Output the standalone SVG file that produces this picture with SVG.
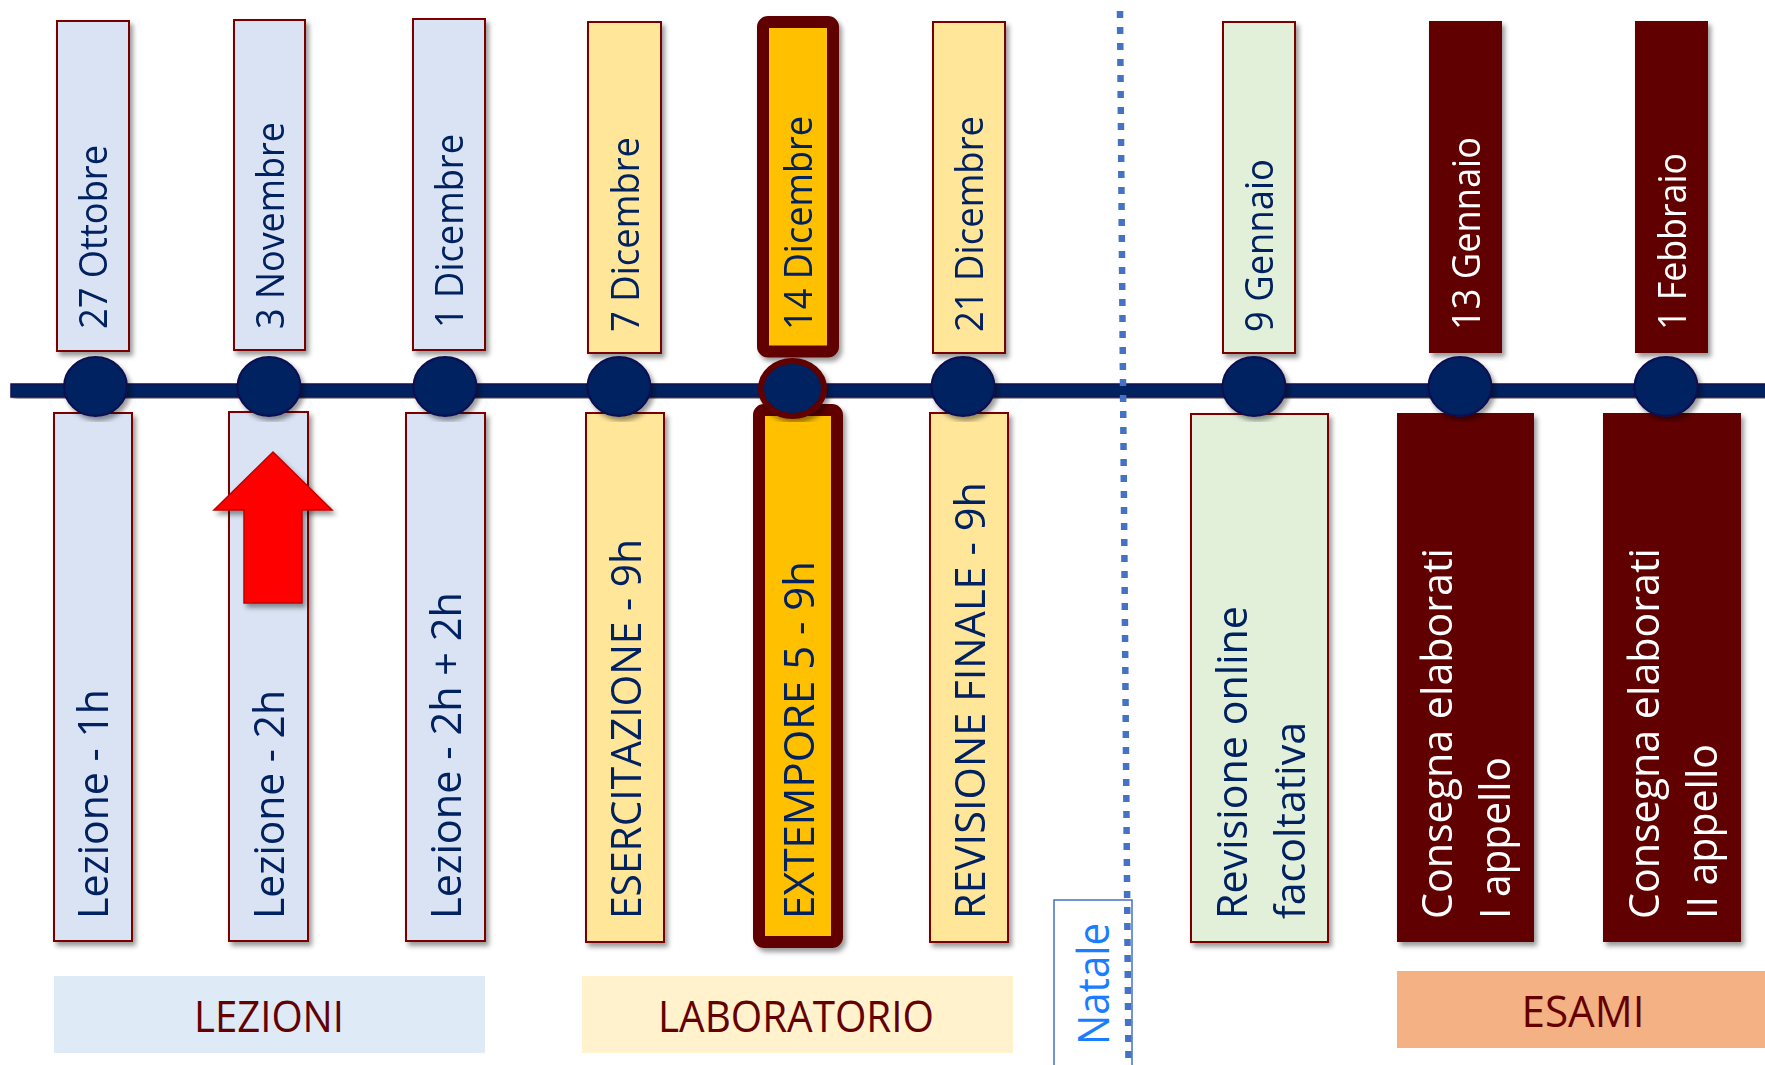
<svg xmlns="http://www.w3.org/2000/svg" width="1765" height="1065" viewBox="0 0 1765 1065">
<defs>
<filter id="sh" x="-30%" y="-10%" width="160%" height="120%">
<feDropShadow dx="3" dy="4" stdDeviation="2.5" flood-color="#000" flood-opacity="0.4"/>
</filter>
<style>
.t{font-family:"Open Sans","Liberation Sans",sans-serif}
.date{font-size:38px;font-weight:400;fill:#002060}
.lbl{font-size:42px;fill:#002060}
.wt{fill:#ffffff}
.band{font-size:44px;fill:#640000}
.bb{fill:#dae3f3;stroke:#7a0000;stroke-width:2}
.by{fill:#ffe699;stroke:#7a0000;stroke-width:2}
.bg{fill:#e2efd9;stroke:#7a0000;stroke-width:2}
.br{fill:#600000}
.hl{fill:#ffc000;stroke:#600000;stroke-width:12}
.dot{fill:#002060;stroke:#0f0f4f;stroke-width:2}
</style>
</defs>
<rect width="1765" height="1065" fill="#ffffff"/>

<g id="band-lezioni">
<rect x="54" y="976" width="431" height="77" fill="#deebf7"/>
<text class="t band" x="269" y="1032" text-anchor="middle" textLength="150" lengthAdjust="spacingAndGlyphs">LEZIONI</text>
</g>
<g id="band-laboratorio">
<rect x="582" y="976" width="431" height="77" fill="#fff2cc"/>
<text class="t band" x="796" y="1032" text-anchor="middle" textLength="276" lengthAdjust="spacingAndGlyphs">LABORATORIO</text>
</g>
<g id="band-esami">
<rect x="1397" y="971" width="368" height="77" fill="#f4b183"/>
<text class="t band" x="1583" y="1027" text-anchor="middle" textLength="123" lengthAdjust="spacingAndGlyphs">ESAMI</text>
</g>

<g id="natale">
<rect x="1054" y="900" width="78" height="175" fill="#ffffff" stroke="#4472c4" stroke-width="1.5"/>
<text class="t" font-size="43" fill="#1a7dff" transform="translate(1109,1045) rotate(-90)" textLength="122" lengthAdjust="spacingAndGlyphs">Natale</text>
</g>

<g id="top-27ott" filter="url(#sh)">
<rect class="bb" x="57" y="21" width="72" height="330"/>
<text class="t date" transform="translate(107,329) rotate(-90)" textLength="184" lengthAdjust="spacingAndGlyphs">27 Ottobre</text>
</g>
<g id="top-3nov" filter="url(#sh)">
<rect class="bb" x="234" y="20" width="71" height="330"/>
<text class="t date" transform="translate(283.5,329) rotate(-90)" textLength="207" lengthAdjust="spacingAndGlyphs">3 Novembre</text>
</g>
<g id="top-1dic" filter="url(#sh)">
<rect class="bb" x="413" y="19" width="72" height="331"/>
<text class="t date" transform="translate(463,328) rotate(-90)" textLength="194" lengthAdjust="spacingAndGlyphs">1 Dicembre</text>
</g>
<g id="top-7dic" filter="url(#sh)">
<rect class="by" x="588" y="22" width="73" height="331"/>
<text class="t date" transform="translate(638.5,332) rotate(-90)" textLength="195" lengthAdjust="spacingAndGlyphs">7 Dicembre</text>
</g>
<g id="top-14dic" filter="url(#sh)">
<rect class="hl" x="763" y="22" width="70" height="329.5" rx="5"/>
<text class="t date" transform="translate(812,330) rotate(-90)" textLength="214" lengthAdjust="spacingAndGlyphs">14 Dicembre</text>
</g>
<g id="top-21dic" filter="url(#sh)">
<rect class="by" x="933" y="22" width="72" height="331"/>
<text class="t date" transform="translate(983,332) rotate(-90)" textLength="216" lengthAdjust="spacingAndGlyphs">21 Dicembre</text>
</g>
<g id="top-9gen" filter="url(#sh)">
<rect class="bg" x="1223" y="22" width="72" height="331"/>
<text class="t date" transform="translate(1273,332) rotate(-90)" textLength="173" lengthAdjust="spacingAndGlyphs">9 Gennaio</text>
</g>
<g id="top-13gen" filter="url(#sh)">
<rect class="br" x="1429" y="21" width="73" height="332"/>
<text class="t date wt" transform="translate(1479.5,330) rotate(-90)" textLength="193" lengthAdjust="spacingAndGlyphs">13 Gennaio</text>
</g>
<g id="top-1feb" filter="url(#sh)">
<rect class="br" x="1635" y="21" width="73" height="332"/>
<text class="t date wt" transform="translate(1686,330) rotate(-90)" textLength="177" lengthAdjust="spacingAndGlyphs">1 Febbraio</text>
</g>

<g id="bot-lezione1" filter="url(#sh)">
<rect class="bb" x="54" y="413" width="78" height="528"/>
<text class="t lbl" transform="translate(108,919) rotate(-90)" textLength="230" lengthAdjust="spacingAndGlyphs">Lezione - 1h</text>
</g>
<g id="bot-lezione2" filter="url(#sh)">
<rect class="bb" x="229" y="412" width="79" height="529"/>
<text class="t lbl" transform="translate(283.5,919) rotate(-90)" textLength="229" lengthAdjust="spacingAndGlyphs">Lezione - 2h</text>
</g>
<g id="bot-lezione3" filter="url(#sh)">
<rect class="bb" x="406" y="413" width="79" height="528"/>
<text class="t lbl" transform="translate(460.5,919) rotate(-90)" textLength="327" lengthAdjust="spacingAndGlyphs">Lezione - 2h + 2h</text>
</g>
<g id="bot-esercitazione" filter="url(#sh)">
<rect class="by" x="586" y="413" width="78" height="529"/>
<text class="t lbl" transform="translate(640.5,919) rotate(-90)" textLength="380" lengthAdjust="spacingAndGlyphs">ESERCITAZIONE - 9h</text>
</g>
<g id="bot-extempore" filter="url(#sh)">
<rect class="hl" x="759" y="410" width="78" height="532" rx="5"/>
<text class="t lbl" transform="translate(814,919) rotate(-90)" textLength="358" lengthAdjust="spacingAndGlyphs">EXTEMPORE 5 - 9h</text>
</g>
<g id="bot-revfinale" filter="url(#sh)">
<rect class="by" x="930" y="413" width="78" height="529"/>
<text class="t lbl" transform="translate(985,919) rotate(-90)" textLength="437" lengthAdjust="spacingAndGlyphs">REVISIONE FINALE - 9h</text>
</g>
<g id="bot-revonline" filter="url(#sh)">
<rect class="bg" x="1191" y="414" width="137" height="528"/>
<text class="t lbl" transform="translate(1247,919) rotate(-90)" textLength="313" lengthAdjust="spacingAndGlyphs">Revisione online</text>
<text class="t lbl" transform="translate(1305,919) rotate(-90)" textLength="197" lengthAdjust="spacingAndGlyphs">facoltativa</text>
</g>
<g id="bot-consegna1" filter="url(#sh)">
<rect class="br" x="1397" y="413" width="137" height="529"/>
<text class="t lbl wt" transform="translate(1452,919) rotate(-90)" textLength="371" lengthAdjust="spacingAndGlyphs">Consegna elaborati</text>
<text class="t lbl wt" transform="translate(1510,919) rotate(-90)" textLength="162" lengthAdjust="spacingAndGlyphs">I appello</text>
</g>
<g id="bot-consegna2" filter="url(#sh)">
<rect class="br" x="1603" y="413" width="138" height="529"/>
<text class="t lbl wt" transform="translate(1659,919) rotate(-90)" textLength="371" lengthAdjust="spacingAndGlyphs">Consegna elaborati</text>
<text class="t lbl wt" transform="translate(1717,919) rotate(-90)" textLength="175" lengthAdjust="spacingAndGlyphs">II appello</text>
</g>

<g id="connectors">
<rect x="11" y="384" width="1760" height="13" fill="#002060" stroke="#0f0f4f" stroke-width="1.5" filter="url(#sh)"/>
<line x1="1120" y1="11" x2="1128.5" y2="1065" stroke="#4472c4" stroke-width="6.5" stroke-dasharray="7 9"/>
</g>

<g id="markers" filter="url(#sh)">
<ellipse class="dot" cx="95.5" cy="386.5" rx="31.5" ry="29.5"/>
<ellipse class="dot" cx="269" cy="386.5" rx="31.5" ry="29.5"/>
<ellipse class="dot" cx="445" cy="386.5" rx="31.5" ry="29.5"/>
<ellipse class="dot" cx="619" cy="386.5" rx="31.5" ry="29.5"/>
<ellipse cx="792.5" cy="388.5" rx="31.5" ry="27.5" fill="#002060" stroke="#600000" stroke-width="6"/>
<ellipse class="dot" cx="963" cy="386.5" rx="31.5" ry="29.5"/>
<ellipse class="dot" cx="1254" cy="386.5" rx="31.5" ry="29.5"/>
<ellipse class="dot" cx="1460" cy="386.5" rx="31.5" ry="29.5"/>
<ellipse class="dot" cx="1666" cy="386.5" rx="31.5" ry="29.5"/>
</g>

<g id="arrow" filter="url(#sh)">
<polygon points="273,452 332,510 302,510 302,603 244,603 244,510 214,510" fill="#ff0000" stroke="#c00000" stroke-width="1.5"/>
</g>
</svg>
